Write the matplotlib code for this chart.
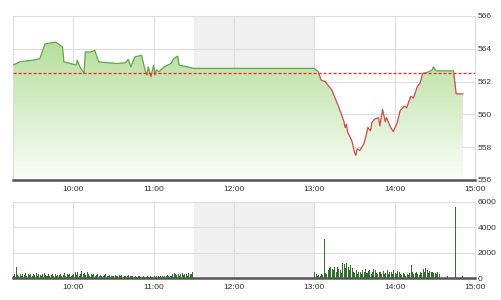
import numpy as np
import matplotlib
matplotlib.use("Agg")
import matplotlib.pyplot as plt
from matplotlib.patches import Rectangle
from matplotlib.colors import LinearSegmentedColormap

plt.rcParams['font.family'] = ['Liberation Sans', 'DejaVu Sans']

# 가격 데이터 (시각, 지수)
price_times = ["09:15", "09:20", "09:25", "09:30", "09:35", "09:39", "09:47", "09:52", "09:53",
               "09:58", "10:02", "10:03", "10:05", "10:08", "10:09", "10:13", "10:16", "10:19",
               "10:25", "10:33", "10:39", "10:41", "10:43", "10:46", "10:51", "10:53", "10:54",
               "10:55", "10:56", "10:58", "11:00", "11:01", "11:02", "11:04", "11:08", "11:13",
               "11:15", "11:18", "11:19", "11:25", "11:30",
               "13:00", "13:03", "13:05", "13:08", "13:13", "13:18", "13:22", "13:23", "13:24",
               "13:25", "13:28", "13:30", "13:31", "13:32", "13:34", "13:37", "13:39", "13:40",
               "13:42", "13:43", "13:45", "13:48", "13:49", "13:51", "13:53", "13:54", "13:57",
               "13:59", "14:02", "14:04", "14:07", "14:09", "14:12", "14:14", "14:17", "14:19",
               "14:21", "14:24", "14:28", "14:29", "14:31", "14:37", "14:44", "14:46", "14:51"]
prices = [563.0, 563.2, 563.26, 563.3, 563.4, 564.3, 564.4, 564.1, 563.2,
          563.1, 563.0, 563.3, 562.9, 562.5, 563.8, 563.8, 563.9, 563.2,
          563.15, 563.1, 563.15, 563.35, 562.9, 563.5, 563.6, 562.9, 562.6,
          562.4, 562.9, 562.3, 563.0, 562.4, 562.7, 562.6, 562.9, 563.1,
          563.4, 563.55, 563.0, 562.9, 562.8,
          562.8, 562.6, 562.1, 562.0, 561.5, 560.5, 559.6, 559.2, 559.4,
          558.9, 558.4, 557.7, 557.5, 557.9, 557.8, 558.2, 558.8, 559.2,
          559.0, 559.5, 559.7, 559.8, 559.3, 560.3, 559.55, 559.8, 559.2,
          558.95, 559.5, 560.2, 560.5, 560.4, 561.1, 561.0, 561.7, 561.9,
          562.5, 562.55, 562.7, 562.9, 562.65, 562.65, 562.65, 561.25, 561.25]
ref_price = 562.5

# 거래량 (1분 단위)
vol_am_start = "09:15"
vol_am = [150, 300, 900, 250, 200, 350, 180, 300, 250, 400, 200, 300, 220, 350, 180,
          300, 250, 400, 200, 350, 280, 150, 300, 420, 250, 200, 330, 180, 260, 300,
          200, 350, 150, 280, 220, 300, 180, 250, 400, 200, 300, 250, 350, 200, 280,
          300, 450, 250, 500, 200, 350, 550, 300, 400, 250, 450, 300, 200, 350, 250,
          300, 200, 250, 350, 180, 280, 200, 150, 250, 300, 200, 180, 250, 200, 150,
          200, 250, 150, 180, 220, 150, 250, 120, 180, 200, 150, 220, 130, 180, 150,
          120, 180, 100, 150, 130, 120, 100, 150, 120, 100, 130, 110, 150, 100, 120,
          150, 120, 180, 130, 100, 150, 200, 120, 180, 150, 250, 130, 180, 200, 350,
          400, 300, 250, 350, 200, 300, 380, 250, 300, 350, 200, 400, 300, 350, 500]
vol_pm_start = "13:00"
vol_pm = [450, 300, 200, 250, 150, 350, 250, 3100, 400, 300, 600, 800, 900, 700, 600,
          850, 500, 900, 700, 600, 400, 1200, 1100, 800, 1150, 900, 600, 1000, 800, 500,
          400, 600, 300, 500, 450, 350, 600, 500, 700, 400, 550, 650, 300, 500, 750,
          600, 400, 300, 500, 450, 350, 550, 300, 400, 600, 350, 450, 500, 300, 600,
          400, 300, 550, 450, 350, 250, 400, 300, 200, 350, 250, 400, 1000, 450, 300,
          400, 500, 350, 250, 450, 400, 700, 500, 800, 650, 400, 550, 500, 450, 400,
          400, 350, 450, 300, 0, 0, 0, 0, 0, 200, 0, 0, 0, 0, 0,
          5600, 0, 0, 0, 0, 150, 0]

hour_ticks = ["10:00", "11:00", "12:00", "13:00", "14:00", "15:00"]


def to_h(s):
    h, m = s.split(":")
    return int(h) + int(m) / 60.0


t = np.array([to_h(s) for s in price_times])
p = np.array(prices)
vt_am = to_h(vol_am_start) + np.arange(len(vol_am)) / 60.0
vt_pm = to_h(vol_pm_start) + np.arange(len(vol_pm)) / 60.0
tick_pos = [to_h(s) for s in hour_ticks]

grid_c = "#dddddd"
text_c = "#333333"
xmin, xmax = 9.25, 15.0

fig = plt.figure(figsize=(5.01, 3.0), dpi=100)
ax = fig.add_axes([0.026, 0.40, 0.922, 0.547])
axv = fig.add_axes([0.026, 0.073, 0.922, 0.254])

for a in (ax, axv):
    a.set_xlim(xmin, xmax)
    a.axvspan(11.5, 13.0, color="#f0f0f0", zorder=0, lw=0)
    a.set_xticks(tick_pos)
    a.set_xticklabels(hour_ticks)
    a.grid(True, color=grid_c, lw=0.8, zorder=1)
    a.yaxis.tick_right()
    a.tick_params(axis="y", length=0, labelsize=6, colors=text_c, pad=2)
    a.tick_params(axis="x", length=0, labelsize=6, colors=text_c, pad=4.5)
    for sp in ("left", "top", "right"):
        a.spines[sp].set_color(grid_c)
        a.spines[sp].set_linewidth(0.8)
    a.spines["bottom"].set_color("#555555")
    a.spines["bottom"].set_linewidth(1.8)
    a.set_axisbelow(True)

# 가격 차트
ax.set_ylim(556, 566)
ax.set_yticks([556, 558, 560, 562, 564, 566])

# 그라데이션 채우기
poly = ax.fill_between(t, p, 556, color="none", lw=0, zorder=2)
cmap = LinearSegmentedColormap.from_list("g", ["#fbfdf9", "#b5df9c"])
grad = np.linspace(0, 1, 256).reshape(-1, 1)
im = ax.imshow(grad, cmap=cmap, aspect="auto", origin="lower",
               extent=[xmin, xmax, 556, p.max()], zorder=2)
path = poly.get_paths()[0]
im.set_clip_path(path, transform=ax.transData)

# 기준선 위는 초록, 아래는 빨강
up_clip = Rectangle((xmin, ref_price), xmax - xmin, 10, transform=ax.transData)
dn_clip = Rectangle((xmin, 550), xmax - xmin, ref_price - 550, transform=ax.transData)
l1, = ax.plot(t, p, color="#5fa64a", lw=0.9, zorder=3)
l1.set_clip_path(up_clip)
l2, = ax.plot(t, p, color="#d0494a", lw=0.9, zorder=3)
l2.set_clip_path(dn_clip)
ax.axhline(ref_price, color="#ee2a2a", lw=0.9, ls=(0, (2.5, 1.5)), zorder=4)

# 거래량 차트
axv.set_ylim(0, 6000)
axv.set_yticks([0, 2000, 4000, 6000])
axv.bar(vt_am, vol_am, width=0.75 / 60, color="#336f2c", align="edge", zorder=3, lw=0)
axv.bar(vt_pm, vol_pm, width=0.75 / 60, color="#336f2c", align="edge", zorder=3, lw=0)

fig.savefig("out.png", dpi=100, facecolor="white")
